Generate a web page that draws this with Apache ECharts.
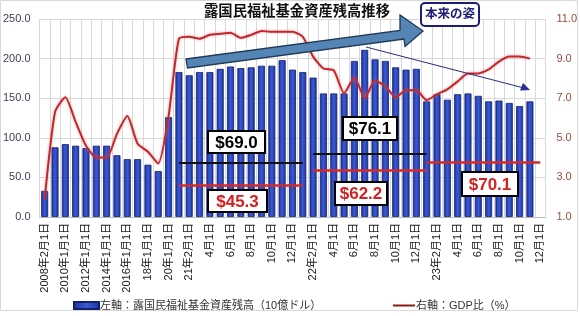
<!DOCTYPE html>
<html>
<head>
<meta charset="utf-8">
<script src="https://cdn.jsdelivr.net/npm/echarts@6/dist/echarts.min.js"></script>
<style>html,body{margin:0;padding:0;background:#fff;}#c{width:580px;height:316px;}</style>
</head>
<body>
<div id="c"></div>
<script>
const categories = ["2008年2月1日","2009年1月1日","2010年1月1日","2011年1月1日","2012年1月1日","2013年1月1日","2014年1月1日","2015年1月1日","2016年1月1日","2017年1月1日","18年1月1日","19年1月1日","20年1月1日",
"21年1月1日","21年2月1日","3月1日","4月1日","5月1日","6月1日","7月1日","8月1日","9月1日","10月1日","11月1日","12月1日",
"22年1月1日","22年2月1日","3月1日","4月1日","5月1日","6月1日","7月1日","8月1日","9月1日","10月1日","11月1日","12月1日",
"23年1月1日","23年2月1日","3月1日","4月1日","5月1日","6月1日","7月1日","8月1日","9月1日","10月1日","11月1日","12月1日"];
const assets = [33,88,92,90,87,90,90,78,73,73,66,58,126,
183,179,183,183,187,190,188,189,191,191,198,186,
183,176,156,156,156,197,211,199,197,189,186,187,
146,155,148,155,156,153,146,147,144,140,146,null];
const gdpRatio = [1.9,6.3,7.05,5.8,4.6,4.0,4.0,5.2,6.1,4.7,4.3,3.7,6.1,
10.0,10.1,10.0,10.2,10.25,10.3,10.05,10.2,10.4,10.35,10.35,10.35,
10.1,9.1,8.5,8.4,7.25,8.05,7.0,7.9,7.6,7.05,7.4,7.4,
6.9,7.2,7.45,7.85,8.25,8.25,8.45,8.85,9.1,9.1,9.0,null];
const leftTicks = {min:0,max:250,interval:50};
const rightTicks = {min:1,max:11,interval:2};
const seriesNames = ["左軸：露国民福祉基金資産残高（10億ドル）","右軸：GDP比（%）"];
// reference levels: [startIndex, endIndex, level]
const blackLevels = [[13,25,69.0],[26,37,80.0]];
const redLevels = [[13,25,40.0],[26,37,59.0],[37,48,68.5]];
const levelLabels = ["$69.0","$45.3","$76.1","$62.2","$70.1"];
const titleText = "露国民福祉基金資産残高推移";
const noteText = "本来の姿";

const FONT = "'Liberation Sans','Noto Sans CJK JP',sans-serif";
const chart = echarts.init(document.getElementById('c'), null, {renderer:'canvas'});

function mk(levels){
  return levels.map(l => [{coord:[l[0], l[2]]},{coord:[l[1], l[2]]}]);
}
function box(x,y,w,h,text,color){
  return [
    {type:'rect', z:100, shape:{x:x,y:y,width:w,height:h}, style:{fill:'#ffffff',stroke:'#000000',lineWidth:2}},
    {type:'text', z:101, style:{x:x+w/2,y:y+h/2+1,text:text,fill:color,font:'bold 17px '+FONT,align:'center',verticalAlign:'middle'}}
  ];
}

const option = {
  animation:false,
  textStyle:{fontFamily:FONT},
  grid:{left:37,right:34,top:19,bottom:99,containLabel:false},
  xAxis:{type:'category',data:categories,
    axisLine:{show:true,lineStyle:{color:'#bfbfbf'}},axisTick:{show:false},
    axisLabel:{interval:1,rotate:90,fontSize:11,color:'#222',margin:6,fontFamily:FONT},
    splitLine:{show:true,interval:0,lineStyle:{color:'#d9d9d9'}}},
  yAxis:[
    {type:'value',min:leftTicks.min,max:leftTicks.max,interval:leftTicks.interval,
      axisLabel:{formatter:v=>v.toFixed(1),fontSize:11,color:'#3c3c5a',margin:9},
      axisLine:{show:false},axisTick:{show:false},
      splitLine:{lineStyle:{color:'#d9d9d9'}}},
    {type:'value',min:rightTicks.min,max:rightTicks.max,interval:rightTicks.interval,
      axisLabel:{formatter:v=>v.toFixed(1),fontSize:11,color:'#a04a3a',margin:11},
      axisLine:{show:false},axisTick:{show:false},splitLine:{show:false}}
  ],
  legend:[
    {data:[seriesNames[0]],left:68,top:295,itemWidth:25,itemHeight:7,icon:'rect',itemGap:0,
      textStyle:{fontSize:11,color:'#333',padding:[0,0,0,-4]}},
    {data:[{name:seriesNames[1],icon:'rect',itemStyle:{color:'#8b1a1a'}}],left:388,top:295,itemWidth:22,itemHeight:2,
      textStyle:{fontSize:11,color:'#333',padding:[0,0,0,-4]}}
  ],
  series:[
    {name:seriesNames[0],type:'bar',data:assets,barWidth:7,yAxisIndex:0,
      itemStyle:{color:new echarts.graphic.LinearGradient(0,0,1,0,[{offset:0,color:'#1b32a0'},{offset:0.5,color:'#3a5ad4'},{offset:1,color:'#1b32a0'}]),
        borderColor:'#14206a',borderWidth:0.8},
      markLine:{silent:true,symbol:['none','none'],label:{show:false},
        data:mk(blackLevels).map(d=>{d[0].lineStyle={color:'#111',width:2,type:'solid'};return d;})
          .concat(mk(redLevels).map(d=>{d[0].lineStyle={color:'#d42a2a',width:2.5,type:'solid'};return d;}))}},
    {name:seriesNames[1],type:'line',data:gdpRatio,yAxisIndex:1,showSymbol:false,smooth:0.2,
      lineStyle:{color:'#c0282d',width:2,shadowColor:'rgba(240,110,110,0.6)',shadowBlur:3},
      itemStyle:{color:'#8b1a1a'}}
  ],
  graphic:[
    {type:'rect',shape:{x:0.5,y:0.5,width:577,height:310},style:{fill:'none',stroke:'#d9d9d9',lineWidth:1},z:0,silent:true},
    {type:'text',z:100,style:{x:297,y:12,text:titleText,font:'bold 14.3px '+FONT,fill:'#111',align:'center',verticalAlign:'middle'}},
    {type:'rect',z:100,shape:{x:421,y:3,width:58,height:23,r:4},style:{fill:'#ffffff',stroke:'#1c1c7a',lineWidth:2}},
    {type:'text',z:101,style:{x:450,y:15,text:noteText,font:'bold 12.5px '+FONT,fill:'#1c1c7a',align:'center',verticalAlign:'middle'}},
    {type:'polygon',z:90,shape:{points:[[186,59],[400,30.5],[400,15],[423,31],[405,46.5],[404,39],[187.5,68]]},
      style:{fill:'#5585b5',stroke:'#1f3956',lineWidth:1.3}},
    {type:'line',z:90,shape:{x1:366,y1:47,x2:524,y2:88},style:{stroke:'#2a2a80',lineWidth:1}},
    {type:'polygon',z:90,shape:{points:[[530,90],[520,90.5],[523,83]]},style:{fill:'#2a2a9a'}}
  ].concat(
    box(208,131,57,22,levelLabels[0],'#000'),
    box(208,190,59,22,levelLabels[1],'#d42020'),
    box(343,117,54,23,levelLabels[2],'#000'),
    box(335,182,52,23,levelLabels[3],'#d42020'),
    box(462,172,56,24,levelLabels[4],'#d42020')
  )
};
chart.setOption(option);
</script>
</body>
</html>
